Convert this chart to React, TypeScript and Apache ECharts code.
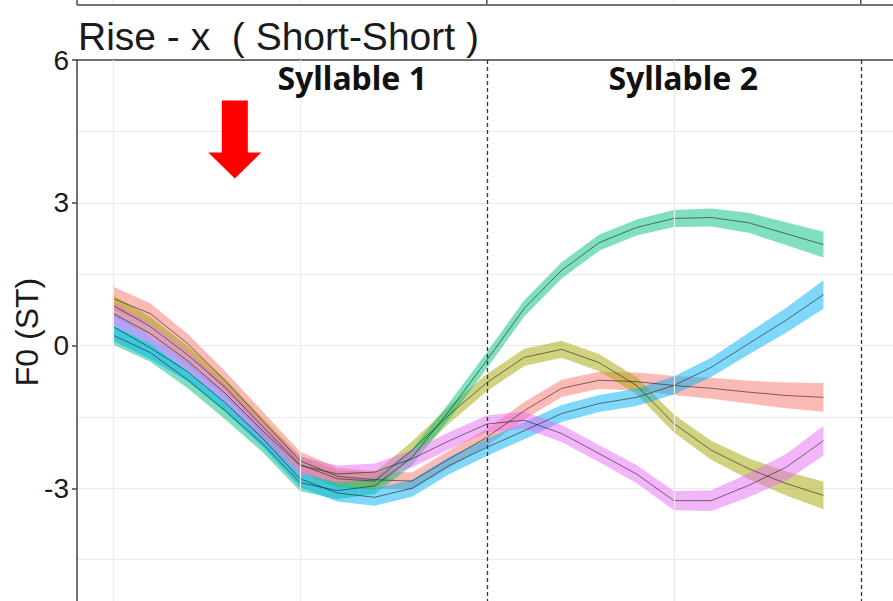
import React, { useEffect, useRef } from "react";
import * as echarts from "echarts";

// Normalised time (syllable 1: 0..0.9, syllable 2: 1.0..1.9)
const TIME = [0, 0.1, 0.2, 0.3, 0.4, 0.5, 0.6, 0.7, 0.8, 0.9, 1.0, 1.1, 1.2, 1.3, 1.4, 1.5, 1.6, 1.7, 1.8, 1.9];

const RED_MEAN = [0.99, 0.67, 0.04, -0.74, -1.58, -2.42, -2.75, -2.82, -2.85, -2.38, -1.93, -1.37, -0.9, -0.73, -0.76, -0.84, -0.9, -0.98, -1.05, -1.09];
const RED_SE = [0.25, 0.22, 0.2, 0.2, 0.2, 0.19, 0.18, 0.18, 0.18, 0.18, 0.18, 0.18, 0.18, 0.18, 0.19, 0.2, 0.22, 0.24, 0.27, 0.3];

const OLIVE_MEAN = [0.84, 0.4, -0.2, -0.88, -1.7, -2.5, -2.8, -2.85, -2.2, -1.45, -0.78, -0.25, -0.08, -0.36, -0.84, -1.64, -2.2, -2.59, -2.9, -3.15];
const OLIVE_SE = [0.22, 0.2, 0.19, 0.18, 0.18, 0.18, 0.18, 0.18, 0.18, 0.18, 0.18, 0.18, 0.18, 0.18, 0.18, 0.19, 0.2, 0.22, 0.25, 0.29];

const GREEN_MEAN = [0.22, -0.15, -0.72, -1.37, -2.06, -2.88, -3.05, -2.95, -2.35, -1.37, -0.31, 0.78, 1.58, 2.16, 2.48, 2.67, 2.69, 2.58, 2.35, 2.12];
const GREEN_SE = [0.2, 0.19, 0.18, 0.18, 0.18, 0.18, 0.18, 0.17, 0.17, 0.17, 0.17, 0.17, 0.17, 0.17, 0.17, 0.18, 0.19, 0.21, 0.24, 0.27];

const BLUE_MEAN = [0.4, -0.05, -0.55, -1.2, -1.95, -2.8, -3.1, -3.19, -3.0, -2.52, -2.14, -1.79, -1.43, -1.22, -1.09, -0.84, -0.46, 0.04, 0.53, 1.07];
const BLUE_SE = [0.3, 0.24, 0.2, 0.19, 0.18, 0.18, 0.18, 0.18, 0.18, 0.18, 0.18, 0.18, 0.18, 0.18, 0.18, 0.19, 0.2, 0.23, 0.26, 0.3];

const PINK_MEAN = [0.68, 0.25, -0.32, -1.0, -1.79, -2.52, -2.7, -2.66, -2.38, -2.0, -1.65, -1.57, -1.85, -2.27, -2.7, -3.26, -3.26, -2.94, -2.56, -2.0];
const PINK_SE = [0.24, 0.21, 0.2, 0.19, 0.19, 0.19, 0.18, 0.18, 0.18, 0.18, 0.18, 0.18, 0.18, 0.18, 0.19, 0.2, 0.22, 0.25, 0.28, 0.31];

const GROUP_NAMES = ["A", "B", "C", "D", "E"];
const GROUP_COLORS = ["#F8766D", "#A3A500", "#00BF7D", "#00B0F6", "#E76BF3"];
const GROUP_MEANS = [RED_MEAN, OLIVE_MEAN, GREEN_MEAN, BLUE_MEAN, PINK_MEAN];
const GROUP_SES = [RED_SE, OLIVE_SE, GREEN_SE, BLUE_SE, PINK_SE];

const Y_MIN = -6;
const Y_MAX = 6;
const Y_STEP = 3;
const X_MIN = -0.096;
const X_MAX = 2.086;
const X_GRID = [0, 0.5, 1.5];
const BOUNDARIES = [1, 2];

const TITLE = "Rise - x\u00a0\u00a0( Short-Short )";
const Y_NAME = "F0 (ST)";
const SYL_LABELS = ["Syllable 1", "Syllable 2"];
const SYL_X = [0.64, 1.525];
const SYL_Y = 5.63;
const ARROW = { x: 0.326, yTop: 5.15, yTip: 3.51 };

function hexA(hex: string, a: number) {
  const r = parseInt(hex.slice(1, 3), 16);
  const g = parseInt(hex.slice(3, 5), 16);
  const b = parseInt(hex.slice(5, 7), 16);
  return `rgba(${r},${g},${b},${a})`;
}

export default function App() {
  const ref = useRef<HTMLDivElement>(null);
  useEffect(() => {
    if (!ref.current) return;
    const chart = echarts.init(ref.current, undefined, { renderer: "svg" });

    const ribbons = GROUP_NAMES.map((name, g) => ({
      type: "custom",
      name: name + " band",
      z: 2,
      silent: true,
      data: TIME.map((t, i) => [t, GROUP_MEANS[g][i]]),
      encode: { x: 0, y: 1 },
      renderItem: (params: any, api: any) => {
        if (params.dataIndex !== 0) return null;
        const upper = TIME.map((t, i) => api.coord([t, GROUP_MEANS[g][i] + GROUP_SES[g][i]]));
        const lower = TIME.map((t, i) => api.coord([t, GROUP_MEANS[g][i] - GROUP_SES[g][i]])).reverse();
        return {
          type: "polygon",
          shape: { points: upper.concat(lower) },
          style: { fill: hexA(GROUP_COLORS[g], 0.5), stroke: "none" },
        };
      },
    }));

    const lines = GROUP_NAMES.map((name, g) => ({
      type: "line",
      name,
      z: 4,
      silent: true,
      showSymbol: false,
      symbol: "none",
      data: TIME.map((t, i) => [t, GROUP_MEANS[g][i]]),
      lineStyle: { color: "rgba(30,30,30,0.85)", width: 0.7 },
    }));

    const option: any = {
      animation: false,
      grid: {
        left: 77,
        top: 60,
        right: 0,
        height: 571,
        show: false,
      },
      xAxis: [
        {
          type: "value",
          min: X_MIN,
          max: X_MAX,
          axisLine: { show: false },
          axisTick: { show: false },
          axisLabel: { show: false },
          splitLine: { show: false },
        },
        {
          type: "value",
          position: "top",
          min: X_MIN,
          max: X_MAX,
          axisLine: { show: true, onZero: false, lineStyle: { color: "#444", width: 1.5 } },
          axisTick: { show: false },
          axisLabel: { show: false },
          splitLine: { show: false },
        },
      ],
      yAxis: {
        type: "value",
        min: Y_MIN,
        max: Y_MAX,
        interval: Y_STEP,
        axisLine: { show: true, onZero: false, lineStyle: { color: "#444", width: 1.5 } },
        axisTick: { show: true, length: 5, lineStyle: { color: "#444", width: 1.5 } },
        axisLabel: {
          fontSize: 28,
          color: "#1a1a1a",
          fontFamily: "Liberation Sans",
          margin: 8,
          showMinLabel: false,
        },
        splitLine: { show: true, lineStyle: { color: "#ebebeb", width: 1.2 } },
        minorTick: { show: false, splitNumber: 2 },
        minorSplitLine: { show: true, lineStyle: { color: "#ebebeb", width: 1.2 } },
      },
      series: [
        {
          type: "line",
          name: "xgrid",
          z: 1,
          silent: true,
          symbol: "none",
          data: [[X_MIN, Y_MIN - 10]],
          markLine: {
            silent: true,
            symbol: "none",
            label: { show: false },
            lineStyle: { color: "#ebebeb", width: 1.2, type: "solid" },
            data: X_GRID.map((v) => ({ xAxis: v })),
          },
        },
        ...ribbons,
        ...lines,
        {
          type: "line",
          name: "boundaries",
          z: 5,
          silent: true,
          symbol: "none",
          data: [[X_MIN, Y_MIN - 10]],
          markLine: {
            silent: true,
            symbol: "none",
            label: { show: false },
            lineStyle: { color: "#333", width: 1.3, type: [4, 3] },
            data: BOUNDARIES.map((v) => ({ xAxis: v })),
          },
        },
      ],
    };
    chart.setOption(option);

    const px = (x: number, y: number) => chart.convertToPixel({ gridIndex: 0 }, [x, y]) as number[];
    const gx = (x: number) => px(x, 0)[0];
    const gridLeft = 77;
    const topBorderY = 5;

    const graphics: any[] = [];
    // bottom edge of the panel above
    graphics.push({
      type: "line",
      shape: { x1: gridLeft, y1: topBorderY, x2: 893, y2: topBorderY },
      style: { stroke: "#444", lineWidth: 1.5 },
    });
    graphics.push({
      type: "line",
      shape: { x1: gridLeft, y1: 0, x2: gridLeft, y2: topBorderY },
      style: { stroke: "#444", lineWidth: 1.5 },
    });
    X_GRID.forEach((v) => {
      graphics.push({
        type: "line",
        shape: { x1: gx(v), y1: 0, x2: gx(v), y2: topBorderY - 1 },
        style: { stroke: "#ebebeb", lineWidth: 1.2 },
      });
    });
    BOUNDARIES.forEach((v) => {
      graphics.push({
        type: "line",
        shape: { x1: gx(v), y1: 0, x2: gx(v), y2: topBorderY - 1 },
        style: { stroke: "#333", lineWidth: 1.3 },
      });
    });
    // strip title
    graphics.push({
      type: "text",
      x: 78,
      y: 36,
      style: {
        text: TITLE,
        font: "39px 'Liberation Sans'",
        fill: "#1a1a1a",
        align: "left",
        verticalAlign: "middle",
      },
    });
    // y axis name
    graphics.push({
      type: "text",
      x: 27,
      y: 332,
      rotation: Math.PI / 2,
      style: {
        text: Y_NAME,
        font: "32px 'Liberation Sans'",
        fill: "#1a1a1a",
        align: "center",
        verticalAlign: "middle",
      },
    });
    // syllable labels
    SYL_LABELS.forEach((s, i) => {
      const p = px(SYL_X[i], SYL_Y);
      graphics.push({
        type: "text",
        x: p[0],
        y: p[1],
        z: 10,
        style: {
          text: s,
          font: "bold 32px 'Noto Sans'",
          fill: "#111",
          align: "center",
          verticalAlign: "middle",
        },
      });
    });
    // red arrow
    const top = px(ARROW.x, ARROW.yTop);
    const tip = px(ARROW.x, ARROW.yTip);
    const headH = 26;
    const shaftHalf = 13;
    const headHalf = 26.5;
    graphics.push({
      type: "polygon",
      z: 10,
      shape: {
        points: [
          [top[0] - shaftHalf, top[1]],
          [top[0] + shaftHalf, top[1]],
          [top[0] + shaftHalf, tip[1] - headH],
          [top[0] + headHalf, tip[1] - headH],
          [tip[0], tip[1]],
          [top[0] - headHalf, tip[1] - headH],
          [top[0] - shaftHalf, tip[1] - headH],
        ],
      },
      style: { fill: "#ff0000", stroke: "none" },
    });

    chart.setOption({ graphic: graphics });

    return () => chart.dispose();
  }, []);

  return (
    <div
      style={{
        position: "fixed",
        left: 0,
        top: 0,
        width: 893,
        height: 601,
        overflow: "hidden",
        background: "#fff",
      }}
    >
      <div ref={ref} style={{ width: 893, height: 640 }} />
    </div>
  );
}
